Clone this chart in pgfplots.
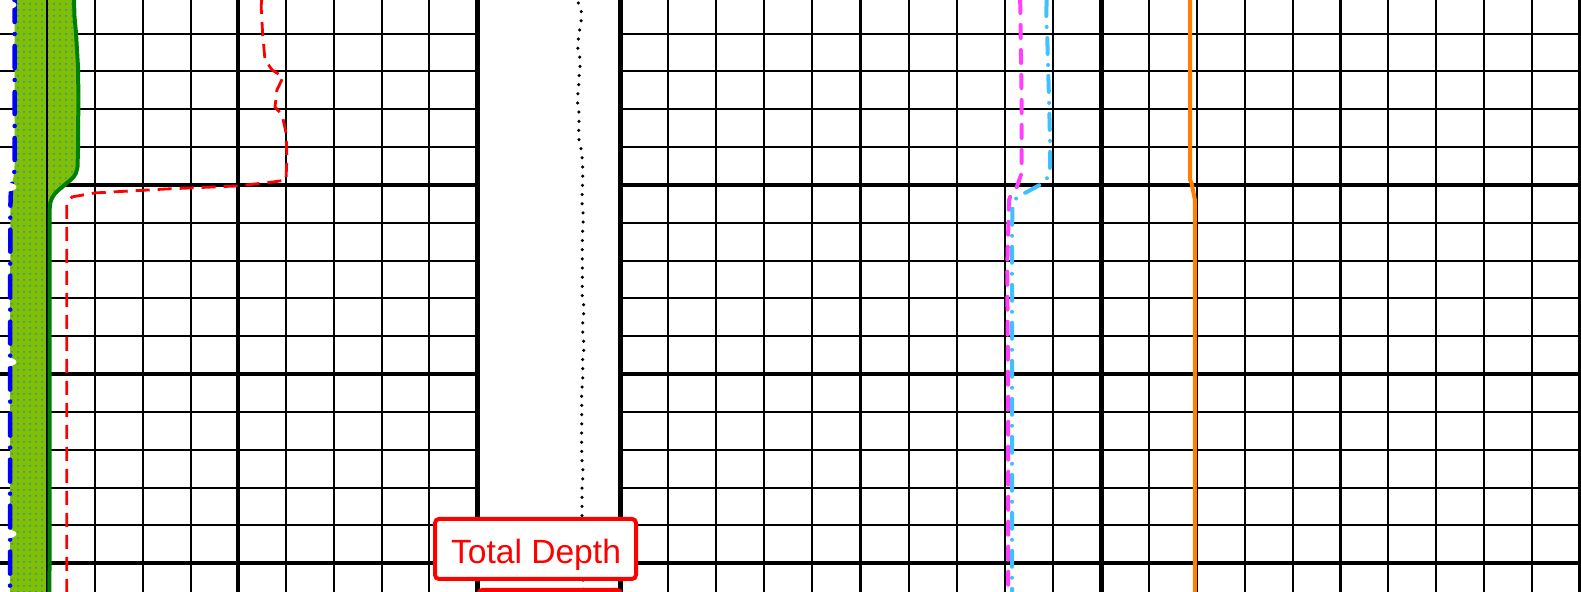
\documentclass[border=0pt]{standalone}
\usepackage{pgfplots}
\pgfplotsset{compat=1.18}
\usepackage{pgfplotstable}
\usetikzlibrary{patterns}
\usepackage{fontspec}
\setmainfont{Liberation Sans}

\definecolor{fillgreen}{RGB}{128,192,0}
\definecolor{linegreen}{RGB}{0,128,0}
\definecolor{dotblue}{RGB}{40,140,210}
\definecolor{magentaline}{RGB}{255,64,255}
\definecolor{skyline}{RGB}{64,192,255}
\definecolor{orangeline}{RGB}{255,128,0}

% track 1 curves: x in grid divisions (0-10), depth
\pgfplotstableread{
x d
0.318 100.22
0.318 108.68
0.310 109.31
0.283 109.74
0.241 110.16
0.235 110.58
0.226 111.32
0.220 131.52
}\bluetab
\pgfplotstableread{
x d
1.560 100.22
1.571 101.12
1.602 101.96
1.644 103.76
1.654 105.51
1.644 107.25
1.644 108.15
1.634 109.05
1.602 109.37
1.550 109.58
1.487 109.74
1.414 109.89
1.340 110.05
1.236 110.27
1.152 110.48
1.099 110.69
1.064 110.95
1.049 111.32
1.047 131.52
}\greentab
% shaded area between the two curves (blue down, green back up)
\pgfplotstableread{
x d
0.318 100.22
0.318 108.68
0.310 109.31
0.283 109.74
0.241 110.16
0.235 110.58
0.226 111.32
0.220 131.52
1.047 131.52
1.049 111.32
1.064 110.95
1.099 110.69
1.152 110.48
1.236 110.27
1.340 110.05
1.414 109.89
1.487 109.74
1.550 109.58
1.602 109.37
1.634 109.05
1.644 108.15
1.644 107.25
1.654 105.51
1.644 103.76
1.602 101.96
1.571 101.12
1.560 100.22
}\areatab

\pgfplotsset{
 track/.style={
   scale only axis, height=296pt,
   ymin=100.22, ymax=131.52, y dir=reverse,
   xmin=0, xmax=10,
   anchor=south west,
   xtick={1,2,3,4,6,7,8,9},
   ytick={102,104,106,108,112,114,116,118,122,124,126,128},
   grid=major,
   major grid style={black, line width=1pt},
   extra x ticks={5}, extra y ticks={100,110,120,130},
   extra x tick style={grid=major, major grid style={black,line width=1.9pt}},
   extra y tick style={grid=major, major grid style={black,line width=1.9pt}},
   xticklabels={}, yticklabels={}, extra x tick labels={}, extra y tick labels={},
   major tick length=0pt,
   separate axis lines,
   x axis line style={draw=none},
 },
}

\begin{document}
\begin{tikzpicture}

% ---------------- Track 1 ----------------
\begin{axis}[track, at={(-0.25pt,0pt)}, width=238.75pt, y axis line style={draw=none}]
\addplot[fill=fillgreen, draw=none] table[x=x,y=d] {\areatab} -- cycle;
\addplot[pattern=dots, pattern color=dotblue, draw=none] table[x=x,y=d] {\areatab} -- cycle;
\addplot[black, line width=1pt] coordinates {(1,100.22) (1,131.52)};
\addplot[blue, line width=2.25pt, line cap=round, dash pattern=on 11pt off 6pt on 0pt off 6pt] table[x=x,y=d] {\bluetab};
\addplot[linegreen, line width=2pt, line join=round] table[x=x,y=d] {\greentab};
\addplot[red, line width=1.4pt, dash pattern=on 7pt off 4pt] coordinates {
(5.49,100.22) (5.48,100.59) (5.51,101.96) (5.56,103.39) (5.71,103.92) (5.94,104.29)
(5.81,104.98) (5.77,105.88) (5.92,106.30) (6.00,107.25) (6.02,108.52) (6.00,109.74)
(5.73,109.84) (4.99,110.05) (3.51,110.21) (2.00,110.42) (1.52,110.63) (1.41,110.95)
(1.41,112.54) (1.41,131.52)};
\addplot[only marks, mark=*, mark size=2.25pt, mark options={xscale=2.9, fill=white, draw=white}] coordinates {
(0.073,100.48) (0.073,110.11) (0.073,119.36) (0.073,128.45)};
\end{axis}

% ---------------- Track 3 ----------------
\begin{axis}[track, at={(310pt,0pt)}, width=240.5pt, y axis line style={draw=none}]
\addplot[magentaline, line width=2pt, line cap=round, dash pattern=on 6.5pt off 6pt] coordinates {
(8.32,100.22) (8.33,101.96) (8.34,103.76) (8.35,105.51) (8.35,109.37) (8.25,110.11)
(8.14,110.42) (8.09,110.79) (8.07,112.54) (8.05,114.34) (8.07,121.37) (8.07,131.52)};
\addplot[skyline, line width=2pt, line cap=round, dash pattern=on 8pt off 5.5pt on 0pt off 5.5pt] coordinates {
(8.87,100.22) (8.86,101.28) (8.88,101.96) (8.90,103.76) (8.92,105.51) (8.94,107.62)
(8.94,109.31) (8.84,109.84) (8.46,110.37) (8.25,110.63) (8.16,111.16) (8.15,112.54) (8.15,131.52)};
\end{axis}

% ---------------- Track 4 ----------------
\begin{axis}[track, at={(550.5pt,0pt)}, width=239.5pt, y axis line style={draw=black, line width=2.5pt}]
\addplot[orangeline, line width=2pt] coordinates {
(1.86,100.22) (1.86,109.74) (1.89,109.90) (1.96,110.79) (1.96,131.52)};
\end{axis}

% ---------------- Depth track ----------------
\begin{axis}[scale only axis, anchor=south west, at={(238.5pt,0pt)}, width=71.5pt, height=296pt,
  ymin=100.22, ymax=131.52, y dir=reverse, xmin=0, xmax=143,
  xtick=\empty, ytick=\empty, separate axis lines,
  x axis line style={draw=none}, y axis line style={draw=black, line width=2.5pt}, clip=false]
\addplot[black, line width=1.75pt, line cap=round, dash pattern=on 0pt off 4.6pt] coordinates {
(101.3,100.38) (104.7,100.91) (104.0,101.38) (102.3,101.91) (101.3,102.33) (100.7,102.86)
(103.0,103.29) (103.0,103.76) (102.0,104.29) (101.7,104.82) (100.7,105.24) (100.7,105.67)
(102.0,106.19) (102.0,106.72) (101.7,107.20) (102.0,107.62) (104.7,108.26) (105.3,108.68)
(105.7,109.21) (105.7,109.74) (105.3,110.16) (105.0,110.63) (104.7,110.80) (106.3,111.59)
(105.3,113.00) (105.3,116.00) (107.3,116.50) (105.7,117.20) (105.7,118.00) (107.3,118.46)
(105.7,119.20) (105.7,120.40) (104.7,120.84) (104.7,124.38) (106.3,125.23) (105.0,125.90)
(105.0,128.50) (106.3,131.52)};
\node[draw=red, line width=2pt, fill=white, rounded corners=2pt, minimum width=100.5pt,
  minimum height=30pt, inner sep=0pt] at (axis cs:58.5,129.245) {};
\node[anchor=base, text=red, inner sep=0pt, font=\fontsize{16.8}{20}\selectfont] at (axis cs:59,130.0) {Total Depth};
\draw[red, line width=2pt, fill=white, rounded corners=2pt] (axis cs:1.5,131.41) rectangle (axis cs:144,134);
\end{axis}
\pgfresetboundingbox
\useasboundingbox (0,0) rectangle (790.5pt,296pt);
\end{tikzpicture}
\end{document}
